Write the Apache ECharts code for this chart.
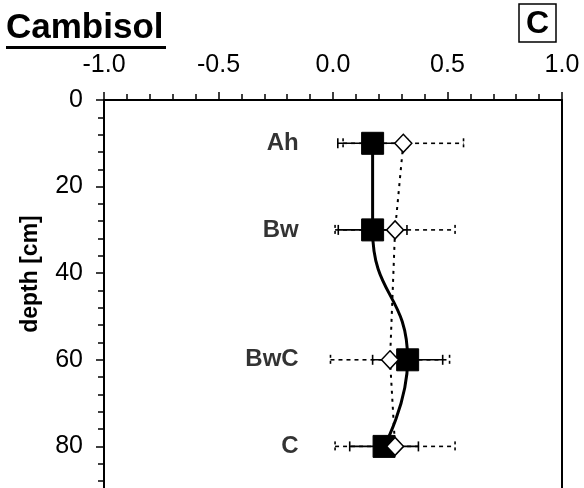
<!DOCTYPE html>
<html>
<head>
<meta charset="utf-8">
<script src="https://cdn.jsdelivr.net/npm/echarts@6/dist/echarts.min.js"></script>
<style>html,body{margin:0;padding:0;background:#fff;}#c{width:584px;height:488px;}</style>
</head>
<body>
<div id="c"></div>
<script>
// ---- data ----
var horizons = ['Ah', 'Bw', 'BwC', 'C'];
var depths = [10, 30, 60, 80];
var squareMean = [0.173, 0.173, 0.326, 0.223];
var squareErr = [0.152, 0.150, 0.153, 0.150];
var diamondMean = [0.307, 0.271, 0.249, 0.271];
var diamondErr = [0.263, 0.262, 0.260, 0.262];
var xTicks = [-1.0, -0.5, 0.0, 0.5, 1.0];
var yTicks = [0, 20, 40, 60, 80];

var FONT = "'Liberation Sans', Arial, sans-serif";
var LABEL_X = -0.15;

function errData(mean, err) {
  return depths.map(function (d, i) { return [mean[i] - err[i], mean[i] + err[i], d]; });
}

function errRender(dashed) {
  return function (params, api) {
    var lo = api.coord([api.value(0), api.value(2)]);
    var hi = api.coord([api.value(1), api.value(2)]);
    var cap = 5;
    var style = { stroke: '#000', lineWidth: 1.6, lineDash: dashed ? [4, 4] : null };
    var capStyle = { stroke: '#000', lineWidth: 1.6, lineDash: dashed ? [3, 3] : null };
    return {
      type: 'group',
      children: [
        { type: 'line', shape: { x1: lo[0], y1: lo[1], x2: hi[0], y2: hi[1] }, style: style },
        { type: 'line', shape: { x1: lo[0], y1: lo[1] - cap, x2: lo[0], y2: lo[1] + cap }, style: capStyle },
        { type: 'line', shape: { x1: hi[0], y1: hi[1] - cap, x2: hi[0], y2: hi[1] + cap }, style: capStyle }
      ]
    };
  };
}

var chart = echarts.init(document.getElementById('c'), null, { renderer: 'canvas' });
var option = {
  animation: false,
  backgroundColor: '#fff',
  textStyle: { fontFamily: FONT },
  grid: { left: 104, top: 100, width: 458, height: 433, containLabel: false, outerBoundsMode: 'none' },
  xAxis: {
    type: 'value', position: 'top', min: -1, max: 1, interval: 0.5,
    axisLine: { show: true, onZero: false, lineStyle: { color: '#000', width: 2 } },
    axisTick: { show: true, inside: false, length: 8, lineStyle: { color: '#000', width: 1.5 } },
    minorTick: { show: true, splitNumber: 5, length: 6, lineStyle: { color: '#000', width: 1.5 } },
    splitLine: { show: false },
    axisLabel: { margin: 22, fontSize: 25, color: '#000', fontFamily: FONT,
      formatter: function (v) { return v.toFixed(1); } }
  },
  yAxis: [{
    type: 'value', inverse: true, min: 0, max: 100, interval: 20,
    axisLine: { show: true, onZero: false, lineStyle: { color: '#000', width: 2 } },
    axisTick: { show: true, inside: false, length: 8, lineStyle: { color: '#000', width: 1.5 } },
    minorTick: { show: true, splitNumber: 5, length: 6, lineStyle: { color: '#000', width: 1.5 } },
    splitLine: { show: false },
    axisLabel: { margin: 21, fontSize: 25, color: '#000', fontFamily: FONT,
      formatter: function (v) { return yTicks.indexOf(v) >= 0 ? String(v) : ''; } }
  }, {
    type: 'value', inverse: true, min: 0, max: 100, position: 'right',
    axisLine: { show: true, onZero: false, lineStyle: { color: '#000', width: 2 } },
    axisTick: { show: false }, axisLabel: { show: false }, splitLine: { show: false }
  }],
  graphic: [
    { type: 'text', left: 6, top: 11, style: { text: 'Cambisol', font: 'bold 35px ' + FONT, fill: '#000' } },
    { type: 'rect', shape: { x: 6, y: 46, width: 160, height: 3 }, style: { fill: '#000' } },
    { type: 'rect', shape: { x: 519, y: 4, width: 37, height: 38 }, style: { fill: '#fff', stroke: '#000', lineWidth: 1.5 } },
    { type: 'text', x: 537.5, y: 24, style: { text: 'C', font: 'bold 32px ' + FONT, fill: '#000', textAlign: 'center', textVerticalAlign: 'middle' } },
    { type: 'text', x: 31, y: 274, rotation: Math.PI / 2,
      style: { text: 'depth [cm]', font: 'bold 23px ' + FONT, fill: '#000', textAlign: 'center', textVerticalAlign: 'middle' } }
  ],
  series: [
    { type: 'custom', z: 1, renderItem: errRender(true), data: errData(diamondMean, diamondErr), encode: { x: [0, 1], y: 2 } },
    { type: 'custom', z: 2, renderItem: errRender(false), data: errData(squareMean, squareErr), encode: { x: [0, 1], y: 2 } },
    { type: 'line', z: 3, data: depths.map(function (d, i) { return [diamondMean[i], d]; }),
      lineStyle: { color: '#000', width: 2, type: [3, 5] }, symbol: 'none' },
    { type: 'line', z: 4, smooth: 0.5, data: depths.map(function (d, i) { return [squareMean[i], d]; }),
      lineStyle: { color: '#000', width: 3 }, symbol: 'rect', symbolSize: 22,
      itemStyle: { color: '#000', borderColor: '#000' } },
    { type: 'scatter', z: 5, data: depths.map(function (d, i) { return [diamondMean[i], d]; }),
      symbol: 'diamond', symbolSize: [17, 18], itemStyle: { color: '#fff', borderColor: '#000', borderWidth: 1.5, opacity: 1 } },
    { type: 'scatter', z: 6, symbolSize: 0,
      data: depths.map(function (d, i) { return { value: [LABEL_X, d], name: horizons[i] }; }),
      label: { show: true, position: 'left', distance: 0, formatter: '{b}', color: '#000',
        fontSize: 24, fontWeight: 'bold', fontFamily: FONT } }
  ]
};
chart.setOption(option);
</script>
</body>
</html>
